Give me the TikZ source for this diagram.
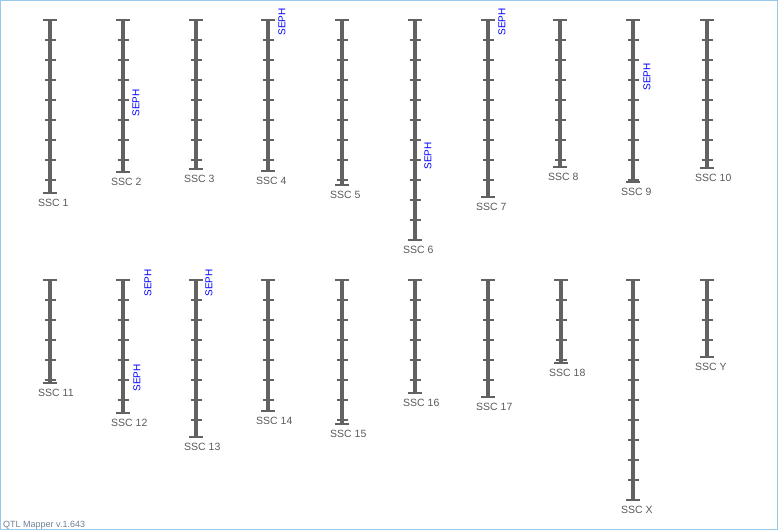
\documentclass[tikz,border=0pt]{standalone}
\usepackage{fontspec}
\setmainfont{Liberation Sans}
\definecolor{chromgray}{RGB}{98,98,98}
\definecolor{labelgray}{RGB}{90,90,90}
\definecolor{framecol}{RGB}{150,200,235}
\definecolor{footcol}{RGB}{110,128,150}

\begin{document}
\begin{tikzpicture}[x=1pt,y=-1pt,
  chrom/.style={line width=4pt,chromgray},
  endmark/.style={line width=1.5pt,chromgray},
  tickmark/.style={line width=1.2pt,chromgray},
  chromlabel/.style={anchor=north west,inner sep=0pt,text=labelgray,font=\fontsize{10.5}{12}\selectfont},
  qtl/.style={rotate=90,inner sep=0pt,text=blue,font=\fontsize{10}{11}\selectfont}]
\useasboundingbox (0,0) rectangle (778,530);
\draw[framecol] (0.5,0.5) rectangle (777.5,529.5);

% chromosomes: x / top / bottom / ticks / name
\foreach \x/\top/\bot/\n/\name in {50/20/193/8/1, 123/20/172/7/2, 196/20/169/7/3, 268/20/171/7/4,
    342/20/185/8/5, 415/20/240/10/6, 488/20/197/8/7, 560/20/167/7/8, 633/20/182/8/9, 707/20/168/7/10,
    50/280/383/5/11, 123/280/413/6/12, 196/280/437/7/13, 268/280/411/6/14, 342/280/424/7/15,
    415/280/393/5/16, 488/280/397/5/17, 561/280/363/4/18, 633/280/500/10/X, 707/280/357/3/Y}{
  \draw[chrom] (\x,\top) -- (\x,\bot);
  \draw[endmark] (\x-7,\top) -- (\x+7,\top);
  \draw[endmark] (\x-7,\bot) -- (\x+7,\bot);
  \foreach \k in {1,...,\n}
    \draw[tickmark] (\x-5.5,\top+20*\k) -- (\x+5.5,\top+20*\k);
  \node[chromlabel] (ssc\name) at (\x-12,\bot+6) {SSC \name};
}

% QTL labels
\node[qtl] (seph2) at (136,103) {SEPH};
\node[qtl] (seph4) at (282,22) {SEPH};
\node[qtl] (seph6) at (428,156) {SEPH};
\node[qtl] (seph7) at (502,22) {SEPH};
\node[qtl] (seph9) at (647,77) {SEPH};
\node[qtl] (seph12a) at (148,283) {SEPH};
\node[qtl] (seph12b) at (137,378) {SEPH};
\node[qtl] (seph13) at (209,283) {SEPH};

\node[anchor=base west,inner sep=0pt,text=footcol,font=\fontsize{9}{10}\selectfont] (footer) at (3,527) {QTL Mapper v.1.643};
\end{tikzpicture}
\end{document}
